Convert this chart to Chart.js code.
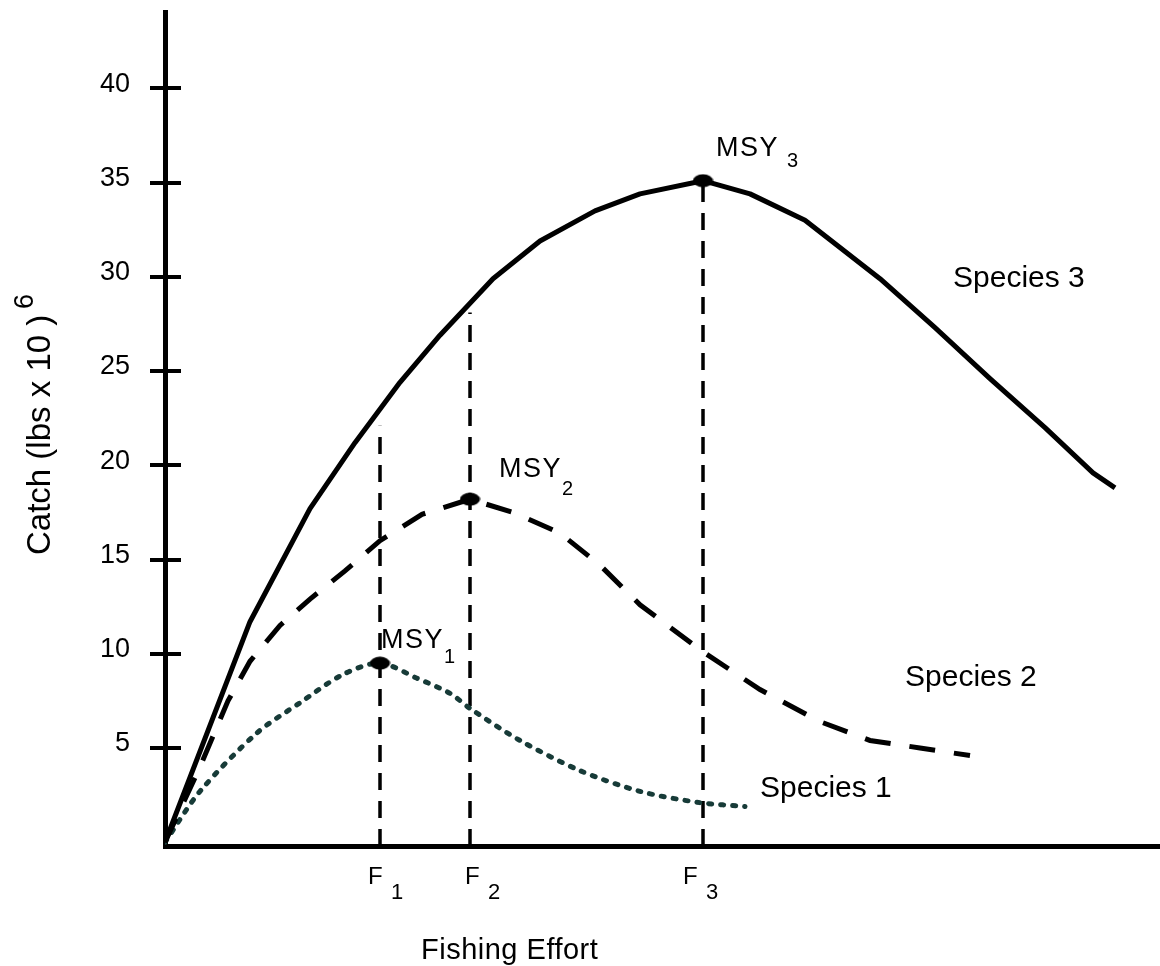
<!DOCTYPE html>
<html>
<head>
<meta charset="utf-8">
<script src="https://cdn.jsdelivr.net/npm/chart.js@4.4.1/dist/chart.umd.min.js"></script>
<style>
html,body{margin:0;padding:0;background:#fff;}
#wrap{width:1160px;height:966px;}
</style>
</head>
<body>
<div id="wrap"><canvas id="c" width="1160" height="966"></canvas></div>
<script>
// ---------- data ----------
const effort3 = [0, 8.5, 14.5, 19, 23.5, 27.5, 32.8, 37.5, 43, 47.5, 53.8, 58.5, 64, 71.5, 77, 82.5, 88, 92.8, 95];
const catch3  = [0, 11.7, 17.7, 21.2, 24.4, 26.9, 29.9, 31.9, 33.5, 34.4, 35.1, 34.4, 33.0, 29.9, 27.3, 24.6, 22.0, 19.6, 18.8];

const effort2 = [0, 3.5, 6.3, 8.5, 11.5, 14.5, 18, 21.5, 25.7, 30.5, 34.8, 39.5, 43.5, 47.5, 53.8, 59.5, 65.5, 70.5, 75.5, 80.5];
const catch2  = [0, 4.0, 7.5, 9.6, 11.5, 12.9, 14.4, 16.0, 17.4, 18.2, 17.5, 16.4, 14.7, 12.6, 10.1, 8.1, 6.4, 5.4, 5.0, 4.6];

const effort1 = [0, 3.5, 9.2, 13.5, 17.8, 21.5, 25.2, 28.5, 30.5, 35.5, 41.5, 47.5, 53.5, 58];
const catch1  = [0, 2.7, 5.8, 7.4, 8.9, 9.5, 8.7, 7.9, 7.1, 5.4, 3.8, 2.7, 2.1, 1.9];

const msyEffort = [21.5, 30.5, 53.8];
const msyCatch  = [9.5, 18.2, 35.1];
const msySubs   = ['1', '2', '3'];

const fEffort = [21.5, 30.5, 53.8];
const fTop    = [22.1, 28.1, 35.1];
const fSubs   = ['1', '2', '3'];

const yTickValues = [5, 10, 15, 20, 25, 30, 35, 40];

const speciesNames = ['Species 1', 'Species 2', 'Species 3'];
const speciesLabelEffort = [59.5, 74.0, 78.8];
const speciesLabelCatch  = [2.4, 8.3, 29.45];

// ---------- style / layout ----------
const FONT = '"Liberation Sans", Arial, Helvetica, sans-serif';
const msyStyle = [
  {dx: 1,  dy: -15, sx: 64, sy: 0},
  {dx: 29, dy: -22, sx: 92, sy: -4},
  {dx: 13, dy: -25, sx: 84, sy: -14}
];
const fLabelDx = [-12, -5, -20];

function ellipseMarker(w, h) {
  const c = document.createElement('canvas');
  c.width = w; c.height = h;
  const g = c.getContext('2d');
  g.fillStyle = '#000';
  g.beginPath();
  g.ellipse(w / 2, h / 2, w / 2 - 0.5, h / 2 - 0.5, 0, 0, Math.PI * 2);
  g.fill();
  return c;
}
const marker = ellipseMarker(21, 14);

const pts = (xs, ys) => xs.map((x, i) => ({x: x, y: ys[i]}));

const datasets = [
  {
    label: 'MSY', data: pts(msyEffort, msyCatch), showLine: false,
    pointStyle: marker, pointRadius: 8, order: 0
  },
  {
    label: 'Species 3', data: pts(effort3, catch3), showLine: true,
    borderColor: '#000', borderWidth: 5, pointRadius: 0, tension: 0,
    borderJoinStyle: 'round', order: 2
  },
  {
    label: 'Species 2', data: pts(effort2, catch2), showLine: true,
    borderColor: '#000', borderWidth: 5, pointRadius: 0, tension: 0,
    borderDash: [26, 19], order: 3
  },
  {
    label: 'Species 1', data: pts(effort1, catch1), showLine: true,
    borderColor: '#173b38', borderWidth: 5, pointRadius: 0, tension: 0.3,
    borderDash: [3, 9], borderCapStyle: 'round', order: 4
  }
];
fEffort.forEach((fx, i) => {
  datasets.push({
    label: 'F' + fSubs[i], data: [{x: fx, y: -0.2}, {x: fx, y: fTop[i]}], showLine: true,
    borderColor: '#000', borderWidth: 3.5, pointRadius: 0, borderDash: [17, 11], order: 5
  });
});

const annotate = {
  id: 'annotate',
  afterDraw(chart) {
    const {ctx, chartArea, scales: {x, y}} = chart;
    ctx.save();
    // y tick marks crossing the axis
    ctx.strokeStyle = '#000';
    ctx.lineWidth = 4;
    yTickValues.forEach(v => {
      const py = Math.round(y.getPixelForValue(v));
      ctx.beginPath();
      ctx.moveTo(chartArea.left - 15, py);
      ctx.lineTo(chartArea.left + 16, py);
      ctx.stroke();
    });

    ctx.fillStyle = '#000';
    ctx.textBaseline = 'alphabetic';
    ctx.textAlign = 'left';

    // MSY labels
    msyEffort.forEach((e, i) => {
      const px = x.getPixelForValue(e), py = y.getPixelForValue(msyCatch[i]);
      const s = msyStyle[i];
      ctx.font = '27px ' + FONT;
      ctx.letterSpacing = '1.5px';
      ctx.fillText('MSY', px + s.dx, py + s.dy);
      ctx.letterSpacing = '0px';
      ctx.font = '20px ' + FONT;
      ctx.fillText(msySubs[i], px + s.sx, py + s.sy);
    });

    // F labels
    const fBase = chartArea.bottom + 38;
    fEffort.forEach((e, i) => {
      const px = x.getPixelForValue(e) + fLabelDx[i];
      ctx.font = '24px ' + FONT;
      ctx.fillText('F', px, fBase);
      ctx.font = '22px ' + FONT;
      ctx.fillText(fSubs[i], px + 23, fBase + 15);
    });

    // Species labels
    ctx.font = '30px ' + FONT;
    speciesNames.forEach((n, i) => {
      ctx.fillText(n, x.getPixelForValue(speciesLabelEffort[i]), y.getPixelForValue(speciesLabelCatch[i]));
    });

    // X axis title
    ctx.font = '29px ' + FONT;
    ctx.letterSpacing = '0.5px';
    ctx.fillText('Fishing Effort', 421, 959);
    ctx.letterSpacing = '0px';

    // Y axis title (rotated) with superscript
    ctx.save();
    ctx.translate(50, 555);
    ctx.rotate(-Math.PI / 2);
    ctx.font = '33px ' + FONT;
    ctx.fillText('Catch (lbs x 10 )', 0, 0);
    ctx.restore();
    ctx.save();
    ctx.translate(33, 309);
    ctx.rotate(-Math.PI / 2);
    ctx.font = '27px ' + FONT;
    ctx.fillText('6', 0, 0);
    ctx.restore();

    ctx.restore();
  }
};

function zeroPad(s) {
  s.paddingTop = 0; s.paddingBottom = 0; s.paddingLeft = 0; s.paddingRight = 0;
}

new Chart(document.getElementById('c'), {
  type: 'scatter',
  data: {datasets: datasets},
  options: {
    responsive: false,
    animation: false,
    layout: {autoPadding: false, padding: {top: 12, right: 0, left: 0, bottom: 0}},
    plugins: {legend: {display: false}, tooltip: {enabled: false}},
    scales: {
      x: {
        type: 'linear', min: 0, max: 99.5,
        grid: {display: false, drawTicks: false},
        border: {display: true, color: '#000', width: 5},
        ticks: {display: false},
        afterFit(s) { s.height = 120; zeroPad(s); }
      },
      y: {
        type: 'linear', min: -0.2, max: 44.05,
        grid: {display: false, drawTicks: false},
        border: {display: true, color: '#000', width: 5},
        ticks: {
          color: '#000', font: {size: 27, family: FONT},
          padding: 35, labelOffset: -4,
          callback: v => String(v)
        },
        afterBuildTicks(s) { s.ticks = yTickValues.map(v => ({value: v})); },
        afterFit(s) { s.width = 165; zeroPad(s); }
      }
    }
  },
  plugins: [annotate]
});
</script>
</body>
</html>
